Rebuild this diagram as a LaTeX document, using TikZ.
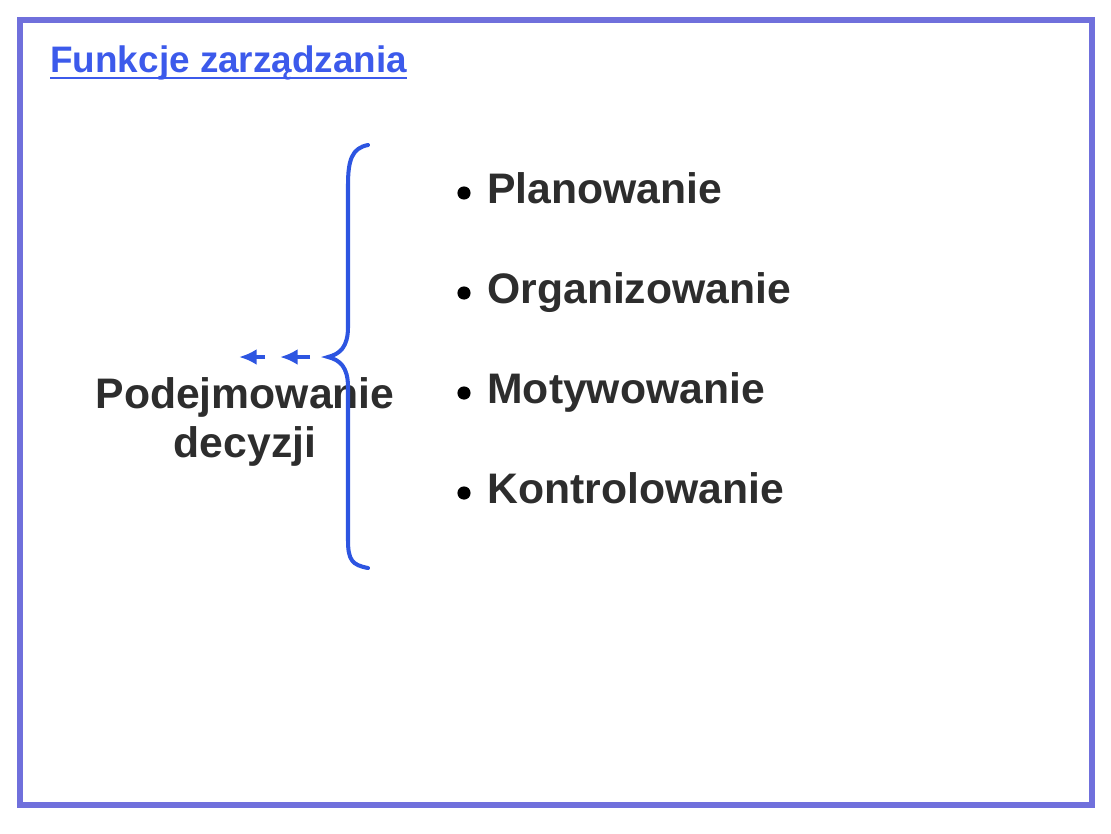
\documentclass[tikz,border=0pt]{standalone}
\usepackage{fontspec}
\setmainfont{Liberation Sans}
\usetikzlibrary{arrows.meta,positioning}

\definecolor{framecol}{RGB}{112,112,220}
\definecolor{bracecol}{RGB}{45,85,225}
\definecolor{titlecol}{RGB}{60,90,235}
\definecolor{textcol}{RGB}{45,45,45}

\tikzset{
  title/.style={anchor=base west, inner sep=0pt, text=titlecol,
    font=\fontsize{21}{25}\selectfont\bfseries},
  item/.style={anchor=base west, inner sep=0pt, text=textcol,
    font=\fontsize{24.3}{28}\selectfont\bfseries},
  dot/.style={circle, fill=black, inner sep=0pt, minimum size=7.5pt},
  brace/.style={draw=bracecol, line width=2.3pt, line cap=round},
  arr/.style={bracecol, line width=2pt, -{Latex[length=10pt,width=9pt]}}
}

\begin{document}
\begin{tikzpicture}[x=0.02cm,y=-0.02cm]
  \useasboundingbox (0,0) rectangle (1111,833);
  \draw[framecol, line width=3.4pt] (20,20) rectangle (1092,805);

  \node[title] (title) at (50,72) {Funkcje zarządzania};
  \draw[titlecol, line width=1.1pt] ([yshift=-3.6pt]title.base west) -- ([yshift=-3.6pt]title.base east);

  % the four functions
  \foreach \y/\name/\label in {
      203/plan/Planowanie,
      303/org/Organizowanie,
      403/mot/Motywowanie,
      503/kon/Kontrolowanie}
  {
    \node[item] (\name) at (487,\y) {\label};
    \node[dot] (\name dot) at (464,\y-10) {};
  };

  \node[align=center, inner sep=0pt, text=textcol,
    font=\fontsize{24.3}{28}\selectfont\bfseries] (decyzje) at (245,422) {Podejmowanie\\decyzji};

  \coordinate (tip) at (328,357);
  \draw[brace] (368,145) .. controls (352,148) and (348,160) .. (348,185)
    -- (348,327) .. controls (348,347) and (340,354) .. (tip)
    .. controls (340,360) and (348,367) .. (348,387)
    -- (348,540) .. controls (348,560) and (352,565) .. (368,568);

  \coordinate (a2) at (310,357);
  \coordinate (b2) at (280,357);
  \coordinate (a1) at (265,357);
  \coordinate (b1) at (239,357);
  \draw[arr] (a2) -- (b2);
  \draw[arr] (a1) -- (b1);
\end{tikzpicture}
\end{document}
